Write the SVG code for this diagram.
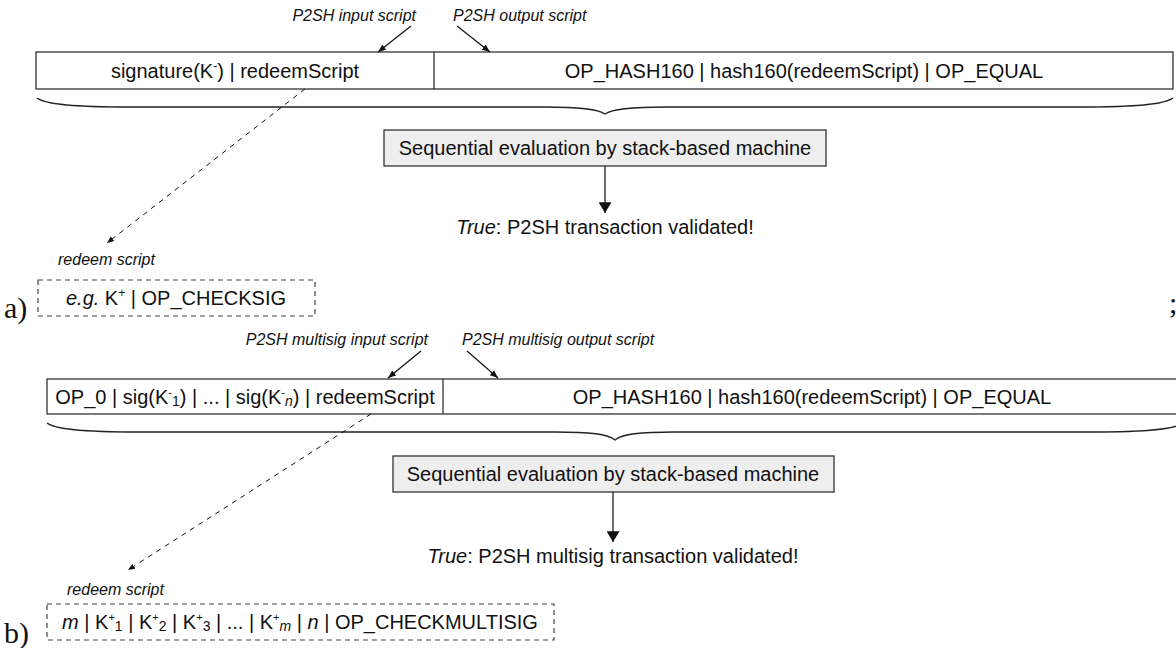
<svg xmlns="http://www.w3.org/2000/svg" width="1176" height="648" viewBox="0 0 1176 648">
  <style>
    text { font-family: "Liberation Sans", Arial, sans-serif; fill: #111; }
    .main { font-size: 20px; text-anchor: middle; }
    .lbl { font-size: 16px; font-style: italic; }
    .tag { font-family: "Liberation Serif", "Times New Roman", serif; font-size: 30px; }
    .it { font-style: italic; }
    .box { fill: #fff; stroke: #333; stroke-width: 1.3; }
    .gbox { fill: #eeeeee; stroke: #333; stroke-width: 1.3; }
    .dbox { fill: none; stroke: #444; stroke-width: 1.2; stroke-dasharray: 5 4; }
    .brace { fill: none; stroke: #222; stroke-width: 1.3; }
    .ln { fill: none; stroke: #111; stroke-width: 1.2; }
    .dash { fill: none; stroke: #111; stroke-width: 1; stroke-dasharray: 5 5; }
  </style>
  <defs>
    <marker id="small" viewBox="0 0 10 10" refX="10" refY="5" markerWidth="8" markerHeight="8" orient="auto" markerUnits="userSpaceOnUse">
      <path d="M0,1 L10,5 L0,9 z" fill="#111"/>
    </marker>
    <marker id="big" viewBox="0 0 10 12" refX="10" refY="6" markerWidth="13" markerHeight="13" orient="auto" markerUnits="userSpaceOnUse">
      <path d="M0,0 L10,6 L0,12 z" fill="#111"/>
    </marker>
    <marker id="tiny" viewBox="0 0 10 10" refX="10" refY="5" markerWidth="7" markerHeight="7" orient="auto" markerUnits="userSpaceOnUse">
      <path d="M0,1 L10,5 L0,9 z" fill="#111"/>
    </marker>
  </defs>

  <!-- ===== a) P2SH ===== -->
  <g id="a-input-label"><text class="lbl" x="416" y="21" text-anchor="end">P2SH input script</text></g>
  <g id="a-output-label"><text class="lbl" x="453" y="21">P2SH output script</text></g>

  <g id="a-script">
    <rect class="box" x="36" y="52" width="1137" height="37"/>
    <line class="box" x1="434" y1="52" x2="434" y2="89"/>
    <text class="main" x="235" y="78">signature(K<tspan font-size="12" dy="-8">-</tspan><tspan dy="8">) | redeemScript</tspan></text>
    <text class="main" x="804" y="78">OP_HASH160 | hash160(redeemScript) | OP_EQUAL</text>
  </g>

  <g id="a-brace">
    <path class="brace" d="M37,98 C45,104 70,107 130,107 L545,107 C580,107 598,109 605,114 C612,109 630,107 665,107 L1080,107 C1140,107 1165,104 1173,98"/>
  </g>

  <g id="a-eval">
    <rect class="gbox" x="384" y="130" width="442" height="36"/>
    <text class="main" x="605" y="155">Sequential evaluation by stack-based machine</text>
  </g>

  <g id="a-result"><text class="main" x="605" y="234"><tspan class="it">True</tspan>: P2SH transaction validated!</text></g>

  <g id="a-redeem">
    <text class="lbl" x="58" y="265">redeem script</text>
    <rect class="dbox" x="38" y="280" width="277" height="36"/>
    <text class="main" x="176" y="305"><tspan class="it">e.g.</tspan> K<tspan font-size="12" dy="-8">+</tspan><tspan dy="8"> | OP_CHECKSIG</tspan></text>
  </g>

  <g id="a-tag"><text class="tag" x="4" y="318">a)</text></g>
  <g id="sep"><text class="tag" x="1169" y="313">;</text></g>

  <!-- ===== b) P2SH multisig ===== -->
  <g id="b-input-label"><text class="lbl" x="428" y="345" text-anchor="end">P2SH multisig input script</text></g>
  <g id="b-output-label"><text class="lbl" x="462" y="345">P2SH multisig output script</text></g>

  <g id="b-script">
    <rect class="box" x="47" y="379" width="1140" height="35"/>
    <line class="box" x1="443" y1="379" x2="443" y2="414"/>
    <text class="main" x="245" y="404">OP_0 | sig(K<tspan font-size="11" dy="-8">-</tspan><tspan font-size="14" dy="10">1</tspan><tspan dy="-2">) | ... | sig(K</tspan><tspan font-size="11" dy="-8">-</tspan><tspan font-size="14" class="it" dy="10">n</tspan><tspan dy="-2">) | redeemScript</tspan></text>
    <text class="main" x="812" y="404">OP_HASH160 | hash160(redeemScript) | OP_EQUAL</text>
  </g>

  <g id="b-brace">
    <path class="brace" d="M47,423 C55,429 80,432 140,432 L555,432 C590,432 608,434 615,440 C622,434 640,432 675,432 L1090,432 C1150,432 1175,429 1183,423"/>
  </g>

  <g id="b-eval">
    <rect class="gbox" x="393" y="456" width="441" height="36"/>
    <text class="main" x="613" y="481">Sequential evaluation by stack-based machine</text>
  </g>

  <g id="b-result"><text class="main" x="613" y="563"><tspan class="it">True</tspan>: P2SH multisig transaction validated!</text></g>

  <g id="b-redeem">
    <text class="lbl" x="67" y="595">redeem script</text>
    <rect class="dbox" x="47" y="604" width="507" height="36"/>
    <text class="main" x="300" y="629"><tspan class="it">m</tspan> | K<tspan font-size="11" dy="-8">+</tspan><tspan font-size="14" dy="10">1</tspan><tspan dy="-2"> | K</tspan><tspan font-size="11" dy="-8">+</tspan><tspan font-size="14" dy="10">2</tspan><tspan dy="-2"> | K</tspan><tspan font-size="11" dy="-8">+</tspan><tspan font-size="14" dy="10">3</tspan><tspan dy="-2"> | ... | K</tspan><tspan font-size="11" dy="-8">+</tspan><tspan font-size="14" class="it" dy="10">m</tspan><tspan dy="-2"> | </tspan><tspan class="it">n</tspan> | OP_CHECKMULTISIG</text>
  </g>

  <g id="b-tag"><text class="tag" x="4" y="643">b)</text></g>

  <!-- ===== connectors ===== -->
  <g id="connectors">
    <line class="ln" x1="411" y1="26" x2="378" y2="52" marker-end="url(#small)"/>
    <line class="ln" x1="457" y1="26" x2="490" y2="52" marker-end="url(#small)"/>
    <line class="ln" x1="605" y1="166" x2="605" y2="213" marker-end="url(#big)"/>
    <line class="dash" x1="305" y1="89" x2="107" y2="243" marker-end="url(#tiny)"/>

    <line class="ln" x1="421" y1="351" x2="388" y2="378" marker-end="url(#small)"/>
    <line class="ln" x1="467" y1="351" x2="498" y2="378" marker-end="url(#small)"/>
    <line class="ln" x1="613" y1="492" x2="613" y2="542" marker-end="url(#big)"/>
    <line class="dash" x1="371" y1="414" x2="128" y2="570" marker-end="url(#tiny)"/>
  </g>
</svg>
